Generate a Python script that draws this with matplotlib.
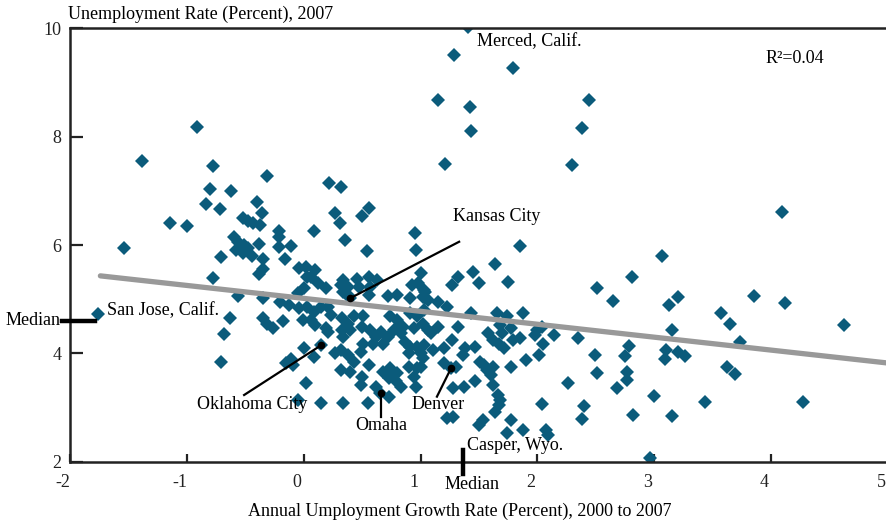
import numpy as np
import matplotlib.pyplot as plt
from matplotlib.transforms import ScaledTranslation

plt.rcParams['font.family'] = ['Liberation Serif', 'DejaVu Serif']

# growth rate (x) and unemployment rate (y) per metro area
growth = [1.41, 1.29, 1.79, 1.15, 1.42, 1.43, 2.44, 2.38, 1.21, 2.30,
          -0.91, -1.38, -0.78, -0.31, -0.80, -0.62, -0.84, -0.72, -0.40, -0.36,
          -1.14, -1.00, -0.52, -0.48, -0.43, -0.37, -0.21, -0.21, -1.54, -0.60,
          -0.56, -0.51, -0.48, -0.38, -0.58, -0.52, -0.44, -0.35, -0.21, -0.11,
          -0.71, -0.16, -0.35, -0.38, -0.04, 0.02, 0.03, -0.78, -0.56, -0.35,
          -0.05, -0.20, -0.13, -0.04, -0.63, -0.35, -0.31, -0.26, -0.18, -1.76,
          -0.01, -0.68, -0.71, -0.15, -0.11, -0.09, 0.00, 0.02, -0.05,
          0.22, 0.32, 0.27, 0.31, 0.50, 0.56, 0.09, 0.35, 0.54, 0.95, 0.96,
          0.10, 0.06, 0.12, 0.00, 0.19, 0.34, 0.46, 0.47, 0.38, 0.32,
          0.34, 0.38, 0.56, 0.63, 0.57, 0.56, 0.72, 0.80, 0.93, 0.98,
          1.00, 1.03, 1.04, 0.91, 0.03, 0.09, 0.15, 0.21, 0.23, 0.06,
          0.10, 0.19, 0.21, 0.33, 0.38, 0.43, 0.51, 0.50, 0.33, 0.40,
          0.34, 0.57, 0.62, 0.66, 0.72, 0.68, 0.59, 0.51, 0.49, 0.74,
          0.80, 0.77, 0.85, 0.83, 0.91, 0.97, 1.03, 1.02, 1.06, 0.94,
          0.87, 0.91, 0.97, 1.03, 1.00, 0.90, 0.27, 0.32, 0.38, 0.43,
          0.09, 0.32, 0.40, 0.50, 0.49, 0.56, 0.68, 0.74, 0.80, 0.73,
          0.79, 0.83, 0.90, 0.97, 0.94, 0.62, 0.73, 0.15, 0.34, 0.55,
          0.96, 0.15, 0.40, 0.65, 1.26,
          1.85, 1.64, 1.45, 1.75, 1.32, 1.27, 1.50, 1.04, 1.02, 1.06,
          1.15, 1.23, 1.43, 1.65, 1.74, 1.88, 2.00, 2.04, 2.14, 2.05,
          1.32, 1.68, 1.77, 1.70, 1.58, 1.62, 1.67, 1.71, 1.79, 1.85,
          1.15, 1.09, 1.27, 1.20, 1.11, 1.38, 1.47, 1.36, 1.02, 1.00,
          1.20, 1.30, 1.54, 1.57, 1.62, 1.60, 1.47, 1.77, 1.90, 2.01,
          1.62, 1.28, 1.37, 1.66, 1.68, 1.67, 1.64, 1.23, 1.28, 1.53,
          1.50, 1.77, 2.04, 1.74, 1.88, 2.07, 1.51,
          4.09, 3.07, 2.81, 2.51, 2.65, 3.20, 3.13, 3.85, 4.12, 3.57,
          3.65, 3.15, 3.73, 4.62, 1.98, 2.35, 2.49, 2.78, 2.75, 3.10,
          3.20, 3.26, 3.09, 3.62, 3.69, 2.51, 2.77, 2.77, 2.26, 2.68,
          3.00, 3.43, 4.27, 2.40, 2.38, 2.82, 3.15, 2.09, 2.96]
unemp = [10.03, 9.51, 9.27, 8.68, 8.55, 8.11, 8.68, 8.16, 7.49, 7.48,
         8.18, 7.55, 7.45, 7.27, 7.03, 7.00, 6.76, 6.66, 6.79, 6.59,
         6.40, 6.36, 6.49, 6.45, 6.41, 6.37, 6.25, 6.15, 5.94, 6.15,
         6.06, 6.00, 5.94, 6.02, 5.91, 5.85, 5.80, 5.74, 5.96, 5.98,
         5.77, 5.74, 5.55, 5.46, 5.57, 5.60, 5.41, 5.39, 5.05, 5.02,
         5.11, 4.95, 4.89, 4.83, 4.65, 4.65, 4.55, 4.46, 4.60, 4.73,
         4.61, 4.36, 3.84, 3.82, 3.89, 3.78, 4.09, 3.45, 3.14,
         7.14, 7.08, 6.59, 6.41, 6.54, 6.68, 6.25, 6.09, 5.89, 6.22, 5.91,
         5.53, 5.41, 5.29, 5.20, 5.20, 5.35, 5.38, 5.23, 5.23, 5.26,
         5.13, 5.08, 5.41, 5.35, 5.23, 5.08, 5.05, 5.08, 5.26, 5.29,
         5.48, 5.17, 5.02, 5.02, 4.86, 4.77, 4.86, 4.86, 4.71, 4.61,
         4.52, 4.46, 4.40, 4.65, 4.55, 4.68, 4.68, 4.49, 4.43, 4.43,
         4.31, 4.43, 4.31, 4.40, 4.31, 4.18, 4.18, 4.18, 4.03, 4.68,
         4.61, 4.43, 4.49, 4.37, 4.75, 4.68, 4.80, 4.55, 4.43, 4.46,
         4.21, 4.12, 4.12, 4.15, 4.00, 4.00, 4.00, 4.06, 3.97, 3.84,
         3.94, 3.69, 3.66, 3.57, 3.41, 3.78, 3.66, 3.72, 3.63, 3.54,
         3.48, 3.38, 3.75, 3.72, 3.57, 3.38, 3.20, 3.08, 3.08, 3.08,
         3.38, 4.15, 5.02, 3.27, 3.72,
         5.98, 5.64, 5.51, 5.32, 5.41, 5.26, 5.29, 5.13, 5.04, 4.98,
         4.95, 4.86, 4.74, 4.74, 4.68, 4.75, 4.43, 4.49, 4.34, 4.18,
         4.49, 4.52, 4.46, 4.37, 4.37, 4.25, 4.18, 4.09, 4.25, 4.28,
         4.49, 4.37, 4.25, 4.09, 4.06, 4.09, 4.12, 3.97, 3.91, 3.75,
         3.82, 3.75, 3.78, 3.69, 3.75, 3.60, 3.48, 3.75, 3.88, 3.97,
         3.41, 3.35, 3.38, 3.23, 3.14, 3.05, 2.92, 2.80, 2.83, 2.77,
         2.68, 2.77, 3.06, 2.52, 2.58, 2.58, 3.84,
         6.61, 5.80, 5.41, 5.20, 4.96, 5.04, 4.89, 5.05, 4.93, 4.75,
         4.54, 4.43, 4.21, 4.52, 4.34, 4.28, 3.97, 4.13, 3.95, 4.06,
         4.03, 3.95, 3.89, 3.75, 3.62, 3.63, 3.66, 3.51, 3.45, 3.35,
         3.21, 3.10, 3.10, 3.03, 2.78, 2.86, 2.84, 2.49, 2.07]

fit_x = [-1.74, 5.0]
fit_y = [5.43, 3.82]
median_growth = 1.36
median_unemp = 4.60

# labelled cities: name, dot (x, y), text (x, y), line end (x, y)
cities = [
    ("Kansas City", (0.40, 5.02), (1.28, 6.53), (1.33, 6.06)),
    ("Oklahoma City", (0.15, 4.15), (-0.91, 3.06), (-0.51, 3.23)),
    ("Omaha", (0.66, 3.26), (0.66, 2.66), (0.66, 2.83)),
    ("Denver", (1.26, 3.72), (1.15, 3.06), (1.14, 3.20)),
]

fs = 13

fig = plt.figure(figsize=(8.86, 5.24), dpi=100)
ax = fig.add_axes([70/886, 62.4/524, 818/886, 433.2/524])

ax.plot(growth, unemp, 'D', ms=7.4, color='#0b5b7b', mew=0, zorder=2)
ax.plot(fit_x, fit_y, color='#999999', lw=3.8, zorder=3, solid_capstyle='round')

for name, dot, txt, end in cities:
    ax.plot([dot[0], end[0]], [dot[1], end[1]], color='black', lw=1.6, zorder=4)
    ax.plot(dot[0], dot[1], 'o', color='black', ms=4.5, zorder=5)
    ha = 'left' if name in ("Kansas City", "Oklahoma City") else 'center'
    ax.text(txt[0], txt[1], name, ha=ha, va='center', fontsize=fs, zorder=6)

ax.text(1.48, 9.75, "Merced, Calif.", fontsize=fs, va='center')
ax.text(-1.68, 4.78, "San Jose, Calif.", fontsize=fs, va='center')
ax.text(1.40, 2.29, "Casper, Wyo.", fontsize=fs, va='center')
ax.text(3.95, 9.45, "R²=0.04", fontsize=fs, va='center')

# median markers
ax.plot([median_growth, median_growth], [1.78, 2.22], color='black', lw=3.2, clip_on=False, zorder=6)
ax.plot([-2.07, -1.79], [median_unemp, median_unemp], color='black', lw=3.2, clip_on=False, zorder=6)
ax.text(1.44, 1.57, "Median", fontsize=fs, ha='center', va='center', clip_on=False)
ax.text(-2.08, median_unemp, "Median", fontsize=fs, ha='right', va='center', clip_on=False)

ax.set_xlim(-2, 5)
ax.set_ylim(2, 10)
ax.set_xticks(range(-2, 6))
ax.set_xticklabels([str(v) for v in range(-2, 6)])
ax.set_yticks([2, 4, 6, 8, 10])
ax.tick_params(axis='x', direction='in', length=6, width=1.6, labelsize=fs, pad=9, colors='#222222')
ax.tick_params(axis='y', direction='in', length=9.5, width=1.6, labelsize=fs, pad=6, colors='#222222')
for lab in ax.get_xticklabels():
    lab.set_transform(lab.get_transform() + ScaledTranslation(-7/100, 0, fig.dpi_scale_trans))

for s in ['left', 'bottom', 'top']:
    ax.spines[s].set_linewidth(1.8)
    ax.spines[s].set_color('#222222')
ax.spines['right'].set_visible(False)

fig.text(68/886, 1 - 14/524, "Unemployment Rate (Percent), 2007", fontsize=fs, va='center', ha='left')
fig.text(460/886, 1 - 511/524, "Annual Umployment Growth Rate (Percent), 2000 to 2007", fontsize=fs, va='center', ha='center')

fig.savefig('out.png', dpi=100)
